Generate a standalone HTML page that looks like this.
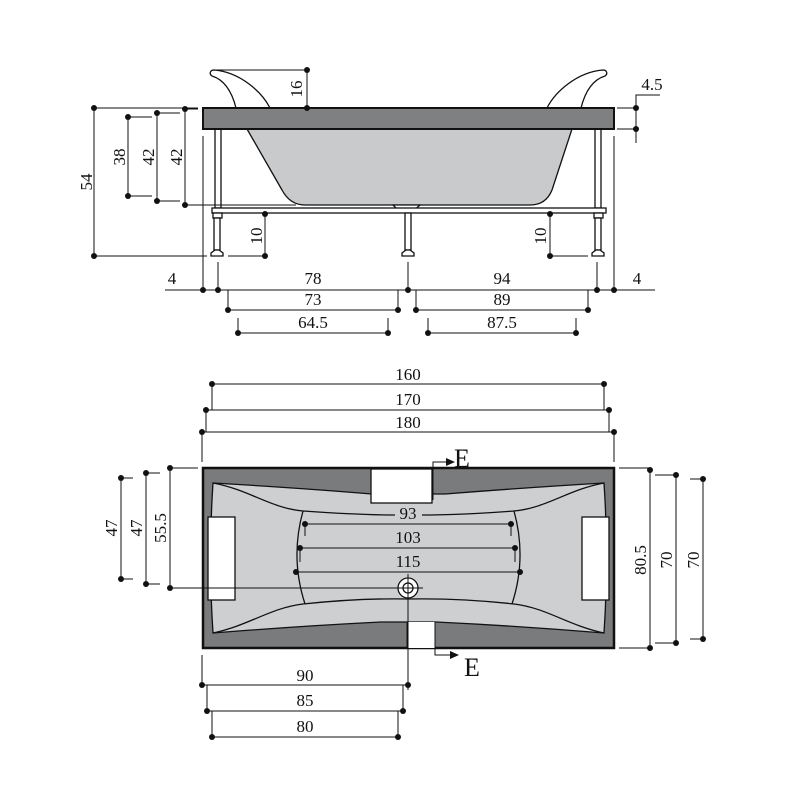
<!DOCTYPE html>
<html><head><meta charset="utf-8"><style>
html,body{margin:0;padding:0;background:#fff}
svg{display:block}
svg text{font-family:"Liberation Serif",serif;font-size:17px;fill:#111}
</style></head><body>
<svg width="800" height="800" viewBox="0 0 800 800" xmlns="http://www.w3.org/2000/svg" font-family="Liberation Serif, serif">
<g stroke="#111" stroke-width="1.3" fill="none">
<path d="M236,108 C232,92 225,80 212,76 C209,74 210,70 214,70 C240,72 262,92 270,108" fill="#fff"/>
<path d="M581,108 C585,92 592,80 605,76 C608,74 607,70 603,70 C577,72 555,92 547,108" fill="#fff"/>
<path d="M247,129 L282,190 Q290,205 305,205 L530,205 Q546,205 552,190 L572,129 Z" fill="#c8cacc"/>
<path d="M393,205 L420,205 L412,212 L400,212 Z" fill="#fff"/>
<rect x="215" y="129" width="6" height="79" fill="#fff"/>
<rect x="595" y="129" width="6" height="79" fill="#fff"/>
<rect x="212" y="208" width="394" height="5" fill="#fff"/>
<rect x="213" y="213" width="9" height="5" fill="#fff"/>
<rect x="214" y="218" width="6" height="32" fill="#fff"/>
<path d="M211,256 L223,256 L223,253 L219,250 L215,250 L211,253 Z" fill="#fff"/>
<rect x="405" y="213" width="6" height="37" fill="#fff"/>
<path d="M402,256 L414,256 L414,253 L410,250 L406,250 L402,253 Z" fill="#fff"/>
<rect x="594" y="213" width="9" height="5" fill="#fff"/>
<rect x="595" y="218" width="6" height="32" fill="#fff"/>
<path d="M592,256 L604,256 L604,253 L600,250 L596,250 L592,253 Z" fill="#fff"/>
<rect x="203" y="108" width="411" height="21" fill="#7f8082" stroke-width="2"/>
<path d="M94,108 V256 M94,108 H198 M94,256 H207 M128,117 V196 M128,117 H152 M128,196 H152 M157,113 V201 M157,113 H180 M157,201 H180 M185,109 V205 M185,205 H296 M185,109 H198" stroke-width="1"/>
<path d="M214,70 H307 V108" stroke-width="1"/>
<path d="M617,108 H636 M617,129 H636 M636,143 V95 H660" stroke-width="1"/>
<path d="M265,214 V256 M228,256 H265 M550,214 V256 M550,256 H588" stroke-width="1"/>
<path d="M203,136 V290 M614,136 V290 M218,262 V290 M408,262 V290 M597,262 V290" stroke-width="1"/>
<path d="M165,290 H655" stroke-width="1"/>
<path d="M228,290 V310 H398 V290 M416,290 V310 H588 V290 M238,318 V333 H388 V318 M428,318 V333 H576 V318" stroke-width="1"/>

<path d="M213,384 H604 M212,384 V410 M604,384 V410 M206,410 H609 M206,410 V432 M609,410 V432 M202,432 H614 M202,432 V462 M614,432 V462" stroke-width="1"/>
<rect x="203" y="468" width="411" height="180" fill="#7a7b7d" stroke-width="2.5"/>
<path d="M213,483 Q300,488 372,494 L445,494 Q520,488 604,483 Q609,558 604,633 Q520,626 436,622 L381,622 Q300,626 213,633 Q208,558 213,483 Z" fill="#cdcfd1"/>
<path d="M213,483 C250,490 270,508 303,511 Q360,515 395,515 M422,515 Q460,515 514,511 C547,508 567,490 604,483" />
<path d="M213,633 C250,625 270,608 303,604 Q360,598 408,599 Q460,598 514,604 C547,608 567,625 604,633"/>
<path d="M303,511 Q290,558 305,604 M514,511 Q527,558 512,604"/>
<rect x="371" y="469" width="61" height="34" fill="#fff"/>
<rect x="407" y="622" width="28" height="26" fill="#fff" stroke="none"/>
<path d="M407,622 V648 M435,622 V648" stroke-width="1"/>
<rect x="208" y="517" width="27" height="83" fill="#fff"/>
<rect x="582" y="517" width="27" height="83" fill="#fff"/>
<path d="M305,524 H511 M300,548 H515 M296,572 H520 M305,524 V536 M511,524 V536 M300,548 V562 M515,548 V562" stroke-width="1"/>
<circle cx="408" cy="588" r="10" fill="#fff"/>
<circle cx="408" cy="588" r="5"/>
<path d="M170,588 H423 M408,574 V602 M408,598 V690" stroke-width="1"/>
<path d="M433,500 V462 H446 M435,625 V655 H450" stroke-width="1"/>
<path d="M121,478 V579 M146,473 V584 M170,468 V588 M121,478 H133 M121,579 H133 M146,473 H160 M146,584 H160 M170,468 H198" stroke-width="1"/>
<path d="M650,470 V648 M676,475 V643 M703,479 V639 M619,468 H650 M619,648 H650 M655,475 H676 M655,643 H676 M690,479 H703 M690,639 H703" stroke-width="1"/>
<path d="M202,655 V685 H408 M207,685 V711 H403 V685 M212,711 V737 H398 V711" stroke-width="1"/>
</g>
<g fill="#111">
<polygon points="446,458 455,462 446,466"/>
<polygon points="450,651 459,655 450,659"/>
<circle cx="94" cy="108" r="3"/><circle cx="94" cy="256" r="3"/>
<circle cx="128" cy="117" r="3"/><circle cx="128" cy="196" r="3"/>
<circle cx="157" cy="113" r="3"/><circle cx="157" cy="201" r="3"/>
<circle cx="185" cy="109" r="3"/><circle cx="185" cy="205" r="3"/>
<circle cx="307" cy="70" r="3"/><circle cx="307" cy="108" r="3"/>
<circle cx="636" cy="108" r="3"/><circle cx="636" cy="129" r="3"/>
<circle cx="265" cy="214" r="3"/><circle cx="265" cy="256" r="3"/>
<circle cx="550" cy="214" r="3"/><circle cx="550" cy="256" r="3"/>
<circle cx="203" cy="290" r="3"/><circle cx="218" cy="290" r="3"/><circle cx="408" cy="290" r="3"/><circle cx="597" cy="290" r="3"/><circle cx="614" cy="290" r="3"/>
<circle cx="228" cy="310" r="3"/><circle cx="398" cy="310" r="3"/><circle cx="416" cy="310" r="3"/><circle cx="588" cy="310" r="3"/>
<circle cx="238" cy="333" r="3"/><circle cx="388" cy="333" r="3"/><circle cx="428" cy="333" r="3"/><circle cx="576" cy="333" r="3"/>
<circle cx="212" cy="384" r="3"/><circle cx="604" cy="384" r="3"/>
<circle cx="206" cy="410" r="3"/><circle cx="609" cy="410" r="3"/>
<circle cx="202" cy="432" r="3"/><circle cx="614" cy="432" r="3"/>
<circle cx="305" cy="524" r="3"/><circle cx="511" cy="524" r="3"/>
<circle cx="300" cy="548" r="3"/><circle cx="515" cy="548" r="3"/>
<circle cx="296" cy="572" r="3"/><circle cx="520" cy="572" r="3"/>
<circle cx="121" cy="478" r="3"/><circle cx="121" cy="579" r="3"/>
<circle cx="146" cy="473" r="3"/><circle cx="146" cy="584" r="3"/>
<circle cx="170" cy="468" r="3"/><circle cx="170" cy="588" r="3"/>
<circle cx="650" cy="470" r="3"/><circle cx="650" cy="648" r="3"/>
<circle cx="676" cy="475" r="3"/><circle cx="676" cy="643" r="3"/>
<circle cx="703" cy="479" r="3"/><circle cx="703" cy="639" r="3"/>
<circle cx="202" cy="685" r="3"/><circle cx="408" cy="685" r="3"/>
<circle cx="207" cy="711" r="3"/><circle cx="403" cy="711" r="3"/>
<circle cx="212" cy="737" r="3"/><circle cx="398" cy="737" r="3"/>
</g>
<rect x="396" y="505" width="26" height="17" fill="#cdcfd1"/>
<g text-anchor="middle" font-family="Liberation Serif, serif" font-size="17">
<text transform="translate(92,182) rotate(-90)">54</text>
<text transform="translate(125,157) rotate(-90)">38</text>
<text transform="translate(154,157) rotate(-90)">42</text>
<text transform="translate(182,157) rotate(-90)">42</text>
<text transform="translate(302,89) rotate(-90)">16</text>
<text x="652" y="90">4.5</text>
<text transform="translate(262,236) rotate(-90)">10</text>
<text transform="translate(546,236) rotate(-90)">10</text>
<text x="172" y="284">4</text>
<text x="313" y="284">78</text>
<text x="502" y="284">94</text>
<text x="637" y="284">4</text>
<text x="313" y="305">73</text>
<text x="502" y="305">89</text>
<text x="313" y="328">64.5</text>
<text x="502" y="328">87.5</text>
<text x="408" y="380">160</text>
<text x="408" y="405">170</text>
<text x="408" y="428">180</text>
<text x="408" y="519">93</text>
<text x="408" y="543">103</text>
<text x="408" y="567">115</text>
<text transform="translate(117,528) rotate(-90)">47</text>
<text transform="translate(142,528) rotate(-90)">47</text>
<text transform="translate(166,528) rotate(-90)">55.5</text>
<text transform="translate(646,560) rotate(-90)">80.5</text>
<text transform="translate(672,560) rotate(-90)">70</text>
<text transform="translate(699,560) rotate(-90)">70</text>
<text x="305" y="681">90</text>
<text x="305" y="706">85</text>
<text x="305" y="732">80</text>
</g>
<text x="454" y="467" font-family="Liberation Serif, serif" style="font-size:26px">E</text>
<text x="464" y="676" font-family="Liberation Serif, serif" style="font-size:26px">E</text>
</svg>
</body></html>
